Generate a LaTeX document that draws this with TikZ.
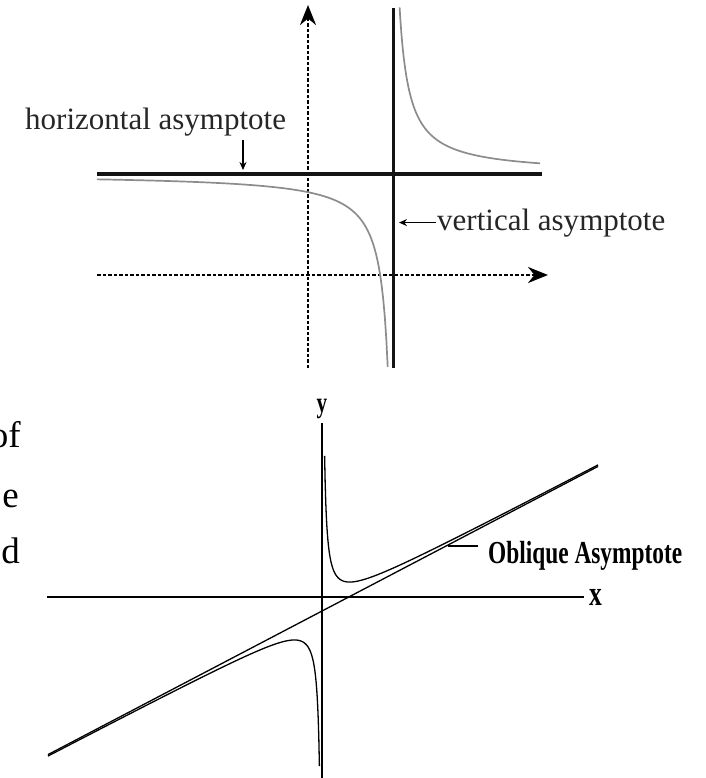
\documentclass[tikz,border=0pt]{standalone}
\usepackage{fontspec}
\setmainfont{Liberation Serif}
\usepackage{graphicx}
\usetikzlibrary{arrows.meta,positioning}
\tikzset{
  asymline/.style={line width=3pt, black!92},
  dashaxis/.style={line width=2.5pt, dash pattern=on 3.5pt off 2pt, -{Stealth[length=20pt,width=16pt]}},
  graycurve/.style={line width=1.7pt, black!45},
  tagarrow/.style={line width=1.1pt, -{Stealth[length=8pt,width=7pt]}},
  thinline/.style={line width=1.3pt},
  plainlabel/.style={font=\fontsize{31}{36}\selectfont, text=black!85, inner sep=0pt},
  boldlabel/.style={font=\fontsize{32}{36}\selectfont\bfseries, inner sep=0pt},
  pagetext/.style={font=\fontsize{37}{44}\selectfont, inner sep=0pt, anchor=base east}
}
\begin{document}
\begin{tikzpicture}[x=1pt, y=-1pt]
\useasboundingbox (0,0) rectangle (705,778);
\clip (0,0) rectangle (705,778);

% top picture: horizontal and vertical asymptote
\coordinate (yaxbot) at (308,368);
\coordinate (yaxtop) at (308,5);
\coordinate (xaxleft) at (97,275);
\coordinate (xaxright) at (548,275);
\coordinate (haleft) at (97,174);
\coordinate (haright) at (542,174);
\coordinate (vatop) at (393,8);
\coordinate (vabot) at (393,368);
\coordinate (hatip) at (243,170);
\coordinate (vatip) at (399,0);

\draw[dashaxis] (yaxbot) -- (yaxtop);
\draw[dashaxis] (xaxleft) -- (xaxright);
\draw[graycurve] plot[domain=97:387.7, samples=200] (\x, {174+1600/(396-\x)});
\draw[graycurve] plot[domain=399.6:540, samples=200] (\x, {174-1600/(\x-390)});
\draw[asymline] (haleft) -- (haright);
\draw[asymline] (vatop) -- (vabot);

\node[plainlabel, anchor=base west] (hlabel) at (25,130) {horizontal asymptote};
\node[plainlabel, anchor=base west] (vlabel) at (437,230) {vertical asymptote};
\draw[tagarrow] ([yshift=-3pt]hlabel.south -| hatip) -- (hatip);
\draw[tagarrow] ([xshift=-1pt]vlabel.west) -- (vlabel.west -| vatip);

% bottom picture: oblique asymptote
\node[pagetext] (txtof) at (21,447) {of};
\node[pagetext] (txte) at (19,507) {e};
\node[pagetext] (txtd) at (20,563) {d};

\coordinate (xleft) at (47,597);
\coordinate (xright) at (584,597);
\coordinate (ytop) at (322,423);
\coordinate (ybot) at (322,778);
\coordinate (obleft) at (48,754.6);
\coordinate (obright) at (598,466.4);
\coordinate (obfoot) at (448,546);
\coordinate (obend) at (478,546);

\draw[thinline] (xleft) -- (xright);
\draw[thinline] (ytop) -- (ybot);
\draw[thinline] (obleft) -- (obright);
\draw[thinline] plot[domain=2.6:276, samples=500] ({322+\x}, {611-(0.524*\x+400/\x)});
\draw[thinline] plot[domain=-274:-2.6, samples=500] ({322+\x}, {611-(0.524*\x+400/\x)});

\node[boldlabel, font=\fontsize{35}{36}\selectfont\bfseries, right=5pt of xright] (xlab) {\scalebox{0.73}[1]{x}};
\node[boldlabel, font=\fontsize{29}{36}\selectfont\bfseries, above=4pt of ytop] (ylab) {\scalebox{0.73}[1]{y}};
\node[boldlabel, anchor=base west] (oblab) at (488,563) {\scalebox{0.73}[1]{Oblique Asymptote}};
\draw[thinline] (obfoot) -- (obend);
\end{tikzpicture}
\end{document}
